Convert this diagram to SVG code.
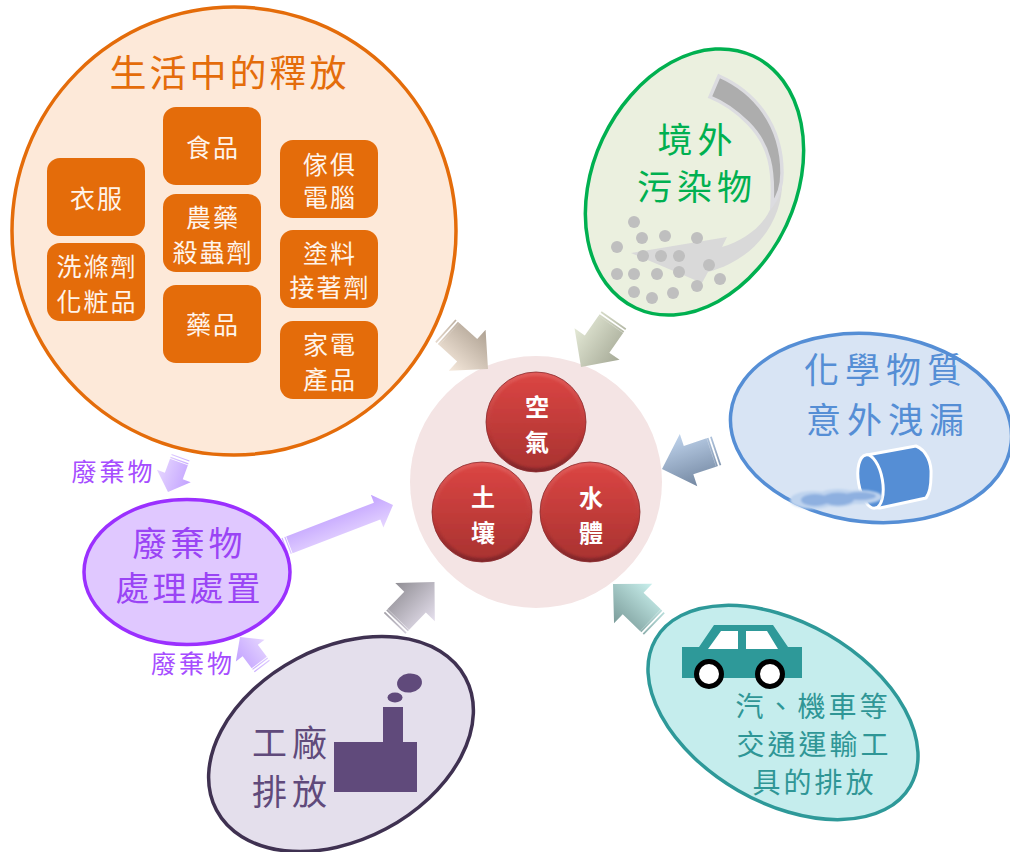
<svg xmlns="http://www.w3.org/2000/svg" width="1010" height="852" viewBox="0 0 1010 852">
<style>
text{font-family:"Noto Sans CJK TC","Noto Sans CJK JP",sans-serif;text-anchor:middle}
.box{fill:#e46c0a}
.bt{fill:#fff4ea;font-size:25px;letter-spacing:2px}
.rt{fill:#fff;font-size:24px;font-weight:700}
.dot{fill:#bfbfbf}
.big{font-size:35px;letter-spacing:5px}
.pt{font-size:25px;letter-spacing:3px;fill:#a64dff}
.tt{font-size:28px;letter-spacing:3px;fill:#2f9696}
</style>
<defs>
<linearGradient id="gO" x1="0" y1="0" x2="0" y2="1"><stop offset="0" stop-color="#aea192"/><stop offset="1" stop-color="#f6e9dc"/></linearGradient>
<linearGradient id="gG" x1="0" y1="0" x2="0" y2="1"><stop offset="0" stop-color="#a6aa97"/><stop offset="1" stop-color="#e4e9d6"/></linearGradient>
<linearGradient id="gB" x1="0" y1="0" x2="0" y2="1"><stop offset="0" stop-color="#7488a2"/><stop offset="1" stop-color="#bfd3ec"/></linearGradient>
<linearGradient id="gT" x1="0" y1="0" x2="0" y2="1"><stop offset="0" stop-color="#7b9c9a"/><stop offset="1" stop-color="#c9f0ed"/></linearGradient>
<linearGradient id="gK" x1="0" y1="0" x2="0" y2="1"><stop offset="0" stop-color="#908e94"/><stop offset="1" stop-color="#e6e0ee"/></linearGradient>
<linearGradient id="gP" x1="0" y1="0" x2="0" y2="1"><stop offset="0" stop-color="#c2a2ff"/><stop offset="1" stop-color="#e6d6ff"/></linearGradient>
<linearGradient id="rimR" x1="0" y1="0" x2="0" y2="1"><stop offset="0" stop-color="#e25c5a"/><stop offset="0.6" stop-color="#bb3836"/><stop offset="1" stop-color="#80262a"/></linearGradient>
<linearGradient id="faceR" x1="0" y1="0" x2="0" y2="1"><stop offset="0" stop-color="#da4543"/><stop offset="1" stop-color="#aa3331"/></linearGradient>
<filter id="soft" x="-20%" y="-20%" width="140%" height="140%"><feGaussianBlur stdDeviation="1.2"/></filter>
<filter id="soft2" x="-20%" y="-50%" width="140%" height="200%"><feGaussianBlur stdDeviation="1"/></filter>
<path id="aL" d="M0,0 L-28,-27.5 L-28,-15 L-52,-15 L-52,15 L-28,15 L-28,27.5 Z M-54,-15 h1.800 v30 h-1.800 Z M-57.500,-15 h1.800 v30 h-1.800 Z"/>
<path id="aM" d="M0,0 L-17,-17.500 L-17,-9 L-111,-9 L-111,9 L-17,9 L-17,17.500 Z M-113,-9 h1.200 v18 h-1.200 Z M-116,-9 h1.200 v18 h-1.200 Z"/>
<path id="aS" d="M0,0 L-17,-18 L-17,-9.500 L-32,-9.500 L-32,9.500 L-17,9.500 L-17,18 Z M-34,-9.500 h1.200 v19 h-1.200 Z M-37,-9.500 h1.200 v19 h-1.200 Z"/>
<circle id="rimC" r="50" fill="url(#rimR)" stroke="#8a2a2c" stroke-width="0.8"/>
<circle id="faceC" r="46" fill="url(#faceR)" filter="url(#soft)"/>
</defs>

<g id="center">
<circle cx="536" cy="482" r="126" fill="#f4e4e4"/>
</g>

<g id="connectors">
<use href="#aL" transform="translate(488,369) rotate(42)" fill="url(#gO)"/>
<use href="#aL" transform="translate(581,367) rotate(125)" fill="url(#gG)"/>
<use href="#aL" transform="translate(662,469) rotate(161.500)" fill="url(#gB)"/>
<use href="#aL" transform="translate(613,584) rotate(224)" fill="url(#gT)"/>
<use href="#aL" transform="translate(434.500,582) rotate(-46)" fill="url(#gK)"/>
<use href="#aM" transform="translate(393,505) rotate(-21)" fill="url(#gP)"/>
<use href="#aS" transform="translate(168,492) rotate(110)" fill="url(#gP)"/>
<use href="#aS" transform="translate(240,637) rotate(233)" fill="url(#gP)"/>
</g>

<g id="air">
<use href="#rimC" x="536" y="422"/><use href="#faceC" x="536" y="422"/>
<text class="rt" x="537" y="416">空</text><text class="rt" x="537" y="451">氣</text>
</g>
<g id="soil">
<use href="#rimC" x="482" y="512"/><use href="#faceC" x="482" y="512"/>
<text class="rt" x="483" y="506">土</text><text class="rt" x="483" y="542">壤</text>
</g>
<g id="water">
<use href="#rimC" x="590" y="512"/><use href="#faceC" x="590" y="512"/>
<text class="rt" x="591" y="507">水</text><text class="rt" x="591" y="542">體</text>
</g>

<g id="daily-life">
<ellipse cx="234" cy="231" rx="222" ry="224" fill="#fde9d9" stroke="#e46c0a" stroke-width="3.500"/>
<text x="229.500" y="87" fill="#e46c0a" font-size="37" letter-spacing="3">生活中的釋放</text>
</g>
<g id="clothes"><rect class="box" x="47" y="158" width="98" height="78" rx="13"/><text class="bt" x="97" y="208">衣服</text></g>
<g id="detergent"><rect class="box" x="47" y="243" width="98" height="78" rx="13"/><text class="bt" x="97" y="276">洗滌劑</text><text class="bt" x="97" y="311">化粧品</text></g>
<g id="food"><rect class="box" x="163" y="107" width="98" height="78" rx="13"/><text class="bt" x="213" y="157">食品</text></g>
<g id="pesticide"><rect class="box" x="163" y="194" width="98" height="78" rx="13"/><text class="bt" x="213" y="227">農藥</text><text class="bt" x="213" y="262">殺蟲劑</text></g>
<g id="medicine"><rect class="box" x="163" y="285" width="98" height="78" rx="13"/><text class="bt" x="213" y="334">藥品</text></g>
<g id="furniture"><rect class="box" x="280" y="140" width="98" height="78" rx="13"/><text class="bt" x="330" y="174">傢俱</text><text class="bt" x="330" y="207">電腦</text></g>
<g id="paint"><rect class="box" x="280" y="230" width="98" height="78" rx="13"/><text class="bt" x="330" y="263">塗料</text><text class="bt" x="330" y="297">接著劑</text></g>
<g id="appliance"><rect class="box" x="280" y="321" width="98" height="78" rx="13"/><text class="bt" x="330" y="354">家電</text><text class="bt" x="330" y="389">產品</text></g>

<g id="overseas">
<ellipse cx="694.500" cy="182" rx="101.500" ry="139" transform="rotate(25 694.500 182)" fill="#ebf0df" stroke="#00b050" stroke-width="3.500"/>
<path d="M631,253 L727,237 L722,247 C745,240 765,225 772,205 L782,175 C785,215 760,258 708,272 L702,283 Z" fill="#d9d9d9"/>
<path d="M719,76 L710,97 C725,103 735,110 748,123 C770,145 774,170 772,205 C778,197 782,185 782,173 C782,125 755,92 719,76 Z" fill="#adadad" stroke="#dcdce0" stroke-width="3.500"/>
<g class="dot">
<circle cx="634" cy="222" r="6"/><circle cx="642" cy="238" r="6"/><circle cx="665" cy="236" r="6"/><circle cx="697" cy="238" r="6"/><circle cx="617" cy="247" r="6"/><circle cx="643" cy="256" r="6"/><circle cx="661" cy="256" r="6"/><circle cx="679" cy="256" r="6"/><circle cx="617" cy="274" r="6"/><circle cx="634" cy="274" r="6"/><circle cx="657" cy="274" r="6"/><circle cx="679" cy="272" r="6"/><circle cx="709" cy="265" r="6"/><circle cx="720" cy="279" r="6"/><circle cx="697" cy="286" r="6"/><circle cx="634" cy="292" r="6"/><circle cx="652" cy="298" r="6"/><circle cx="673" cy="293" r="6"/>
</g>
<text class="big" x="697.500" y="153" fill="#00b050">境外</text>
<text class="big" x="697" y="200" fill="#00b050">污染物</text>
</g>

<g id="chemical">
<ellipse cx="871" cy="428" rx="141" ry="94" transform="rotate(6 871 428)" fill="#d8e4f4" stroke="#558ed5" stroke-width="3.500"/>
<text class="big" x="886" y="383" fill="#558ed5" style="letter-spacing:6px">化學物質</text>
<text class="big" x="888" y="433" fill="#558ed5" style="letter-spacing:6px">意外洩漏</text>
<path d="M867,455 L916,446 C926,450 932,462 931,476 C931,488 929,494 926,498 L880,508 C874,508 870,505 868,500 Z" fill="#558ed5" stroke="#fff" stroke-width="3" stroke-linejoin="round"/>
<ellipse cx="870.500" cy="481.500" rx="12" ry="27" transform="rotate(-10 870.500 481.500)" fill="#558ed5" stroke="#fff" stroke-width="3"/>
<g filter="url(#soft2)">
<ellipse cx="813" cy="500" rx="23" ry="9" fill="#bed3ee"/>
<ellipse cx="838" cy="498" rx="22" ry="9" fill="#bed3ee"/>
<ellipse cx="860" cy="497" rx="22" ry="7" fill="#bed3ee"/>
<ellipse cx="815" cy="500" rx="14" ry="6" fill="#8eb0e0"/>
<ellipse cx="838" cy="499" rx="16" ry="6.500" fill="#8eb0e0"/>
<ellipse cx="860" cy="496" rx="16" ry="4" fill="#8eb0e0"/>
</g>
</g>

<g id="transport">
<ellipse cx="783" cy="712.500" rx="147" ry="90" transform="rotate(30 783 712.500)" fill="#c5eded" stroke="#2e9999" stroke-width="3.500"/>
<path d="M682,647 H699 L714,625 H773 L788,647 H802 V678 H682 Z" fill="#2e9999"/>
<path d="M708,649 L721,631 H738 V649 Z M746,631 H767 L778,649 H746 Z" fill="#fff"/>
<circle cx="709" cy="674" r="12.500" fill="#fff" stroke="#000" stroke-width="5"/>
<circle cx="770" cy="674" r="12.500" fill="#fff" stroke="#000" stroke-width="5"/>
<text class="tt" x="813" y="717">汽、機車等</text>
<text class="tt" x="814" y="755">交通運輸工</text>
<text class="tt" x="814.500" y="793">具的排放</text>
</g>

<g id="factory">
<ellipse cx="341" cy="744" rx="141" ry="96" transform="rotate(-28 341 744)" fill="#e4dfec" stroke="#3f3151" stroke-width="3.500"/>
<path d="M334,742 H383 V707 H403 V742 H417 V792 H334 Z" fill="#604a7b"/>
<ellipse cx="409.500" cy="683" rx="12.500" ry="9.500" transform="rotate(-8 409.500 683)" fill="#604a7b"/>
<ellipse cx="395" cy="697.500" rx="7.500" ry="5" fill="#604a7b"/>
<text class="big" x="292" y="756" fill="#604a7b">工廠</text>
<text class="big" x="292" y="805" fill="#604a7b">排放</text>
</g>

<g id="waste-treatment">
<ellipse cx="187" cy="572" rx="103" ry="72.500" fill="#e0c8ff" stroke="#9b30ff" stroke-width="3.500"/>
<text x="189.500" y="556" fill="#9a44f5" font-size="34" letter-spacing="4">廢棄物</text>
<text x="189.500" y="601" fill="#9a44f5" font-size="34" letter-spacing="3">處理處置</text>
</g>
<g id="waste-label-1"><text class="pt" x="113.500" y="481">廢棄物</text></g>
<g id="waste-label-2"><text class="pt" x="193" y="673">廢棄物</text></g>
</svg>
